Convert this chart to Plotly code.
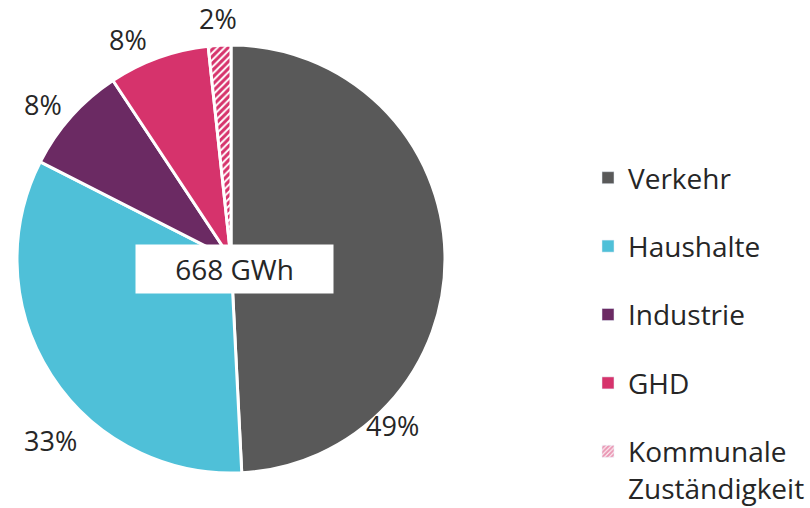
import plotly.graph_objects as go

W, H = 810, 508

categories = ["Verkehr", "Haushalte", "Industrie", "GHD", "Kommunale Zuständigkeit"]
legend_labels = ["Verkehr", "Haushalte", "Industrie", "GHD", "Kommunale<br>Zuständigkeit"]
shares = [49.2, 33.3, 8.2, 7.6, 1.7]
total_label = "668 GWh"
colors = ["#595959", "#4FC0D8", "#6B2A63", "#D6336C", "#D6336C"]
patterns = ["", "", "", "", "/"]

FONT = "Open Sans"
TXT = "#262626"

def px(x):
    return x / W

def py(y):
    return 1 - y / H

fig = go.Figure()

fig.add_trace(go.Pie(
    labels=categories,
    values=shares,
    sort=False,
    direction="clockwise",
    rotation=0,
    textinfo="none",
    hoverinfo="label+percent",
    showlegend=False,
    marker=dict(
        colors=["#595959", "#4FC0D8", "#6B2A63", "#D6336C", "white"],
        line=dict(color="white", width=3),
        pattern=dict(shape=patterns, fgcolor=colors, bgcolor="white", size=5, solidity=0.6),
    ),
    domain=dict(x=[px(17), px(445)], y=[py(473), py(45)]),
))

# legend entries via empty bar traces (allows spacing between items)
for lab, col, pat in zip(legend_labels, colors, patterns):
    fig.add_trace(go.Bar(
        x=[None], y=[None], name=lab, legendgroup=lab,
        marker=dict(color=col if not pat else "white",
                    pattern=dict(shape=pat, fgcolor=col, bgcolor="white", size=4, solidity=0.7)),
        showlegend=True,
    ))

# percentage labels
total = sum(shares)
label_pos = [(392, 425), (50, 440), (43, 105), (128, 40), (218, 18)]
for v, (x, y) in zip(shares, label_pos):
    fig.add_annotation(
        x=px(x), y=py(y), xref="paper", yref="paper",
        xanchor="center", yanchor="middle",
        text=f"{round(v / total * 100)}%", showarrow=False,
        font=dict(family=FONT, size=27, color=TXT),
    )

# total box
fig.add_annotation(
    x=px(234.5), y=py(269), xref="paper", yref="paper",
    xanchor="center", yanchor="middle",
    text=total_label, showarrow=False,
    width=197, height=48, bgcolor="white", borderpad=0,
    font=dict(family=FONT, size=28, color=TXT),
)

fig.update_layout(
    width=W, height=H,
    margin=dict(l=0, r=0, t=0, b=0, autoexpand=False),
    paper_bgcolor="white", plot_bgcolor="white",
    xaxis=dict(visible=False), yaxis=dict(visible=False),
    legend=dict(
        x=px(588), y=py(153), xanchor="left", yanchor="top",
        font=dict(family=FONT, size=28, color=TXT),
        tracegroupgap=29, traceorder="grouped", valign="top",
        itemwidth=30, bgcolor="rgba(0,0,0,0)", borderwidth=0,
    ),
    showlegend=True,
)

fig.write_html("out.html", config={"displayModeBar": False},
               post_script="document.body.style.margin='0';")
